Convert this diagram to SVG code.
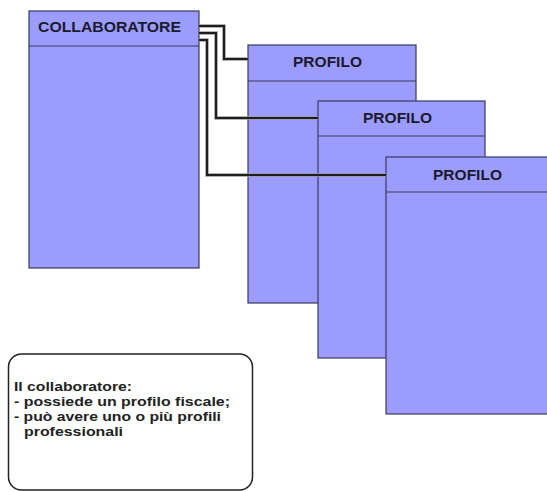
<svg xmlns="http://www.w3.org/2000/svg" width="547" height="492" viewBox="0 0 547 492">
<style>
.box{fill:#9c9cff;stroke:#3a3a5a;stroke-width:1.2}
.sep{stroke:#3a3a5a;stroke-width:1.2}
.hd{font-family:"Liberation Sans",Arial,sans-serif;font-weight:bold;font-size:14px;fill:#1a1a2e}
.note{fill:#fff;stroke:#222;stroke-width:1.5}
.nt{font-family:"Liberation Sans",Arial,sans-serif;font-weight:bold;font-size:12.5px;fill:#222}
.halo{fill:none;stroke:#9a9a9a;stroke-width:3.5}
.conn{fill:none;stroke:#1e1e1e;stroke-width:2}
</style>
<rect width="547" height="492" fill="#fff"/>
<g id="collaboratore">
<rect class="box" x="29" y="11" width="170" height="257"/>
<line class="sep" x1="29" y1="46" x2="199" y2="46"/>
<text class="hd" x="38" y="32" textLength="143" lengthAdjust="spacingAndGlyphs">COLLABORATORE</text>
</g>
<g id="profilo1">
<rect class="box" x="248" y="45" width="168" height="258"/>
<line class="sep" x1="248" y1="81" x2="416" y2="81"/>
<text class="hd" x="293" y="67" textLength="69" lengthAdjust="spacingAndGlyphs">PROFILO</text>
</g>
<g id="profilo2">
<rect class="box" x="318" y="101" width="167" height="257"/>
<line class="sep" x1="318" y1="136" x2="485" y2="136"/>
<text class="hd" x="363" y="123" textLength="69" lengthAdjust="spacingAndGlyphs">PROFILO</text>
</g>
<g id="profilo3">
<rect class="box" x="386" y="157" width="165" height="257"/>
<line class="sep" x1="386" y1="192" x2="551" y2="192"/>
<text class="hd" x="433" y="180" textLength="69" lengthAdjust="spacingAndGlyphs">PROFILO</text>
</g>
<g id="connectors">
<polyline class="halo" points="199,26 224,26 224,59 248,59"/>
<polyline class="halo" points="199,33 216,33 216,118 318,118"/>
<polyline class="halo" points="199,40 207,40 207,175 386,175"/>
<polyline class="conn" points="199,26 224,26 224,59 248,59"/>
<polyline class="conn" points="199,33 216,33 216,118 318,118"/>
<polyline class="conn" points="199,40 207,40 207,175 386,175"/>
</g>
<g id="nota">
<rect class="note" x="8.5" y="354" width="244" height="136" rx="13" ry="13"/>
<text class="nt" x="14" y="391" textLength="118" lengthAdjust="spacingAndGlyphs">Il collaboratore:</text>
<text class="nt" x="14" y="406" textLength="216" lengthAdjust="spacingAndGlyphs">- possiede un profilo fiscale;</text>
<text class="nt" x="14" y="421" textLength="207" lengthAdjust="spacingAndGlyphs">- può avere uno o più profili</text>
<text class="nt" x="24" y="436" textLength="99" lengthAdjust="spacingAndGlyphs">professionali</text>
</g>
</svg>
